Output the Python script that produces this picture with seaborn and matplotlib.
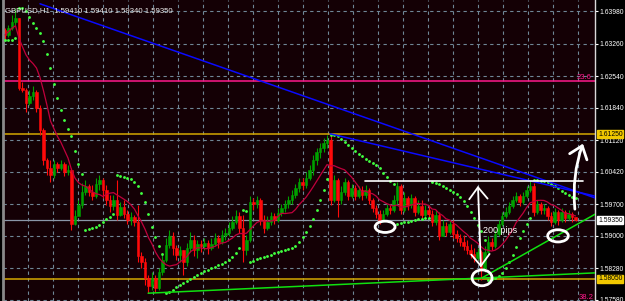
import numpy as np
import pandas as pd
import matplotlib
matplotlib.use("Agg")
import matplotlib.pyplot as plt
import matplotlib.transforms as mtransforms
from matplotlib.patches import Ellipse, FancyArrowPatch, ArrowStyle
import seaborn as sns

# ---------------- data ----------------
header = "GBPUSD,H1  1.59410 1.59410 1.59340 1.59350"
first_open = 1.6356
closes = [
    1.6345, 1.6360, 1.6374, 1.6383, 1.6227, 1.6223, 1.6194, 1.6210, 1.6219, 1.6183,
    1.6134, 1.6068, 1.6050, 1.6035, 1.6059, 1.6050, 1.6059, 1.6041, 1.6046, 1.5926,
    1.5944, 1.5968, 1.5997, 1.6010, 1.5997, 1.5988, 1.6015, 1.6024, 1.6002, 1.5979,
    1.5966, 1.5979, 1.5946, 1.5964, 1.5948, 1.5935, 1.5942, 1.5931, 1.5855, 1.5842,
    1.5807, 1.5789, 1.5807, 1.5784, 1.5820, 1.5846, 1.5880, 1.5900, 1.5873, 1.5857,
    1.5869, 1.5842, 1.5873, 1.5891, 1.5869, 1.5882, 1.5877, 1.5884, 1.5873, 1.5882,
    1.5895, 1.5886, 1.5902, 1.5906, 1.5917, 1.5931, 1.5944, 1.5917, 1.5869, 1.5891,
    1.5975, 1.5970, 1.5979, 1.5935, 1.5917, 1.5931, 1.5944, 1.5935, 1.5951, 1.5962,
    1.5970, 1.5979, 1.5990, 1.6006, 1.6019, 1.6013, 1.6028, 1.6046, 1.6068, 1.6086,
    1.6094, 1.6105, 1.6112, 1.5979, 1.6024, 1.5979, 1.5997, 1.6019, 1.5988, 1.6006,
    1.5988, 1.6002, 1.5990, 1.6002, 1.5979, 1.5962, 1.5948, 1.5935, 1.5948, 1.5962,
    1.5957, 1.5979, 1.6010, 1.5957, 1.5984, 1.5968, 1.5984, 1.5953, 1.5966, 1.5946,
    1.5957, 1.5948, 1.5931, 1.5946, 1.5900, 1.5922, 1.5909, 1.5926, 1.5904, 1.5895,
    1.5886, 1.5877, 1.5869, 1.5860, 1.5851, 1.5864, 1.5829, 1.5864, 1.5886, 1.5877,
    1.5904, 1.5926, 1.5944, 1.5953, 1.5966, 1.5979, 1.5988, 1.5975, 1.5988, 1.6002,
    1.6010, 1.5953, 1.5970, 1.5957, 1.5962, 1.5944, 1.5931, 1.5953, 1.5935, 1.5953,
    1.5940, 1.5948, 1.5941, 1.5935,
]
highs = [
    1.6360, 1.6367, 1.6389, 1.6405, 1.6383, 1.6241, 1.6227, 1.6223, 1.6232, 1.6223,
    1.6190, 1.6139, 1.6072, 1.6068, 1.6068, 1.6063, 1.6068, 1.6063, 1.6057, 1.6050,
    1.5957, 1.5979, 1.6017, 1.6024, 1.6015, 1.6013, 1.6028, 1.6035, 1.6028, 1.6013,
    1.5990, 1.5990, 1.6024, 1.5975, 1.5979, 1.5957, 1.5953, 1.5946, 1.5968, 1.5864,
    1.5851, 1.5813, 1.5820, 1.5813, 1.5829, 1.5857, 1.5895, 1.5913, 1.5909, 1.5880,
    1.5877, 1.5869, 1.5884, 1.5909, 1.5902, 1.5891, 1.5891, 1.5895, 1.5891, 1.5895,
    1.5906, 1.5902, 1.5913, 1.5917, 1.5931, 1.5944, 1.5957, 1.5953, 1.5946, 1.5902,
    1.5988, 1.5984, 1.5988, 1.5984, 1.5946, 1.5944, 1.5953, 1.5951, 1.5962, 1.5970,
    1.5979, 1.5988, 1.6002, 1.6015, 1.6028, 1.6028, 1.6041, 1.6057, 1.6079, 1.6094,
    1.6105, 1.6116, 1.6123, 1.6121, 1.6035, 1.6028, 1.6010, 1.6028, 1.6024, 1.6015,
    1.6013, 1.6010, 1.6010, 1.6013, 1.6006, 1.5984, 1.5968, 1.5957, 1.5957, 1.5970,
    1.5968, 1.5990, 1.6019, 1.6015, 1.5997, 1.5988, 1.5992, 1.5988, 1.5979, 1.5979,
    1.5968, 1.5968, 1.5957, 1.5957, 1.5953, 1.5935, 1.5931, 1.5935, 1.5935, 1.5913,
    1.5904, 1.5902, 1.5891, 1.5882, 1.5873, 1.5873, 1.5869, 1.5877, 1.5900, 1.5895,
    1.5913, 1.5935, 1.5953, 1.5964, 1.5975, 1.5988, 1.5997, 1.5992, 1.5997, 1.6010,
    1.6024, 1.6017, 1.5979, 1.5975, 1.5970, 1.5966, 1.5953, 1.5962, 1.5957, 1.5962,
    1.5957, 1.5957, 1.5953, 1.5941,
]
lows = [
    1.6334, 1.6340, 1.6356, 1.6367, 1.6223, 1.6219, 1.6174, 1.6190, 1.6201, 1.6174,
    1.6123, 1.6057, 1.6035, 1.6019, 1.6028, 1.6041, 1.6046, 1.6032, 1.6035, 1.5913,
    1.5924, 1.5953, 1.5962, 1.5990, 1.5988, 1.5979, 1.5984, 1.6002, 1.5984, 1.5968,
    1.5953, 1.5957, 1.5935, 1.5944, 1.5940, 1.5926, 1.5924, 1.5922, 1.5842, 1.5829,
    1.5791, 1.5773, 1.5780, 1.5776, 1.5780, 1.5813, 1.5842, 1.5873, 1.5857, 1.5846,
    1.5842, 1.5813, 1.5833, 1.5864, 1.5855, 1.5851, 1.5864, 1.5869, 1.5860, 1.5869,
    1.5877, 1.5873, 1.5882, 1.5891, 1.5900, 1.5913, 1.5926, 1.5906, 1.5842, 1.5857,
    1.5886, 1.5957, 1.5962, 1.5924, 1.5906, 1.5913, 1.5924, 1.5926, 1.5931, 1.5944,
    1.5953, 1.5962, 1.5970, 1.5984, 1.5997, 1.6002, 1.6006, 1.6024, 1.6035, 1.6057,
    1.6072, 1.6086, 1.6094, 1.5968, 1.5975, 1.5942, 1.5970, 1.5990, 1.5979, 1.5984,
    1.5979, 1.5984, 1.5979, 1.5984, 1.5970, 1.5953, 1.5940, 1.5926, 1.5931, 1.5944,
    1.5948, 1.5953, 1.5970, 1.5948, 1.5953, 1.5957, 1.5962, 1.5944, 1.5948, 1.5940,
    1.5940, 1.5940, 1.5922, 1.5924, 1.5891, 1.5900, 1.5900, 1.5904, 1.5895, 1.5886,
    1.5877, 1.5869, 1.5860, 1.5851, 1.5842, 1.5846, 1.5802, 1.5820, 1.5855, 1.5869,
    1.5873, 1.5900, 1.5922, 1.5940, 1.5948, 1.5962, 1.5975, 1.5966, 1.5970, 1.5984,
    1.5997, 1.5944, 1.5948, 1.5948, 1.5948, 1.5935, 1.5922, 1.5926, 1.5924, 1.5931,
    1.5931, 1.5935, 1.5931, 1.5934,
]
price_ticks = [1.63980, 1.63260, 1.62540, 1.61840, 1.61120,
               1.60420, 1.59700, 1.59000, 1.58280, 1.57580]
gold_levels = [1.61250, 1.58050]
fibo_levels = [1.6243, 1.5756]
fibo_labels = ["23.6", "38.2"]
current_price = 1.59350
# drawn objects: (bar0, price0, bar1, price1)
blue_lines = [(10.0, 1.6414, 168.6, 1.5984), (92.9, 1.6126, 168.6, 1.5988)]
green_lines = [(40.9, 1.5773, 168.6, 1.5818), (136.3, 1.5807, 168.6, 1.5948)]
white_level = (102.9, 165.1, 1.6021)
ovals = [(108.6, 1.5920), (136.3, 1.5807), (158.0, 1.5900)]  # centres
oval_sizes = [(5.7, 0.0025), (5.7, 0.0035), (5.9, 0.0027)]
range_arrow = (135.1, 1.6017, 136.0, 1.5824)
range_text = (136.6, 1.5911, "200 pips")
up_arrow = (162.9, 1.5953, 165.4, 1.6110)

# ---------------- styling ----------------
sns.set_theme(style="dark")
plt.rcParams["font.family"] = ["Liberation Sans", "DejaVu Sans"]

BG = "#140005"
BULL = "#00a000"
BEAR = "#ff0a0a"
LABEL_FS = 4.9

fig = plt.figure(figsize=(6.25, 3.01), dpi=100, facecolor="black")
ax = fig.add_axes([3 / 625, 0.0, 592 / 625, 1.0])
ax.set_facecolor(BG)

c = np.array(closes)
h = np.array(highs)
l = np.array(lows)
o = np.r_[first_open, c[:-1]]
n = len(c)
bars = np.arange(n)
df = pd.DataFrame({"bar": bars, "open": o, "high": h, "low": l, "close": c})
df["ma"] = df["close"].rolling(10, min_periods=1).mean()


def parabolic_sar(hi, lo, step=0.02, amax=0.2):
    sar = np.empty(len(hi))
    bull = True
    af = step
    ep = hi[0]
    sar[0] = lo[0]
    for i in range(1, len(hi)):
        s = sar[i - 1] + af * (ep - sar[i - 1])
        if bull:
            s = min(s, lo[i - 1], lo[max(i - 2, 0)])
            if lo[i] < s:
                bull, s, ep, af = False, ep, lo[i], step
            elif hi[i] > ep:
                ep, af = hi[i], min(af + step, amax)
        else:
            s = max(s, hi[i - 1], hi[max(i - 2, 0)])
            if hi[i] > s:
                bull, s, ep, af = True, ep, hi[i], step
            elif lo[i] < ep:
                ep, af = lo[i], min(af + step, amax)
        sar[i] = s
    return sar


df["sar"] = parabolic_sar(h, l)

x_left, x_right = -0.57, 168.57
ax.set_xlim(x_left, x_right)
ax.set_ylim(1.57557, 1.64224)

# grid
grid_col = "#6f8696"
for p in price_ticks:
    ax.axhline(p, color=grid_col, lw=0.8, ls=(0, (3, 3)), zorder=0.5)
for gx in np.arange(6.57, 168, 7.143):
    ax.axvline(gx, color=grid_col, lw=0.8, ls=(0, (3, 3)), zorder=0.5)

# horizontal levels
ax.axhline(fibo_levels[0], color="#ff1a8c", lw=1.1, zorder=1)
for g in gold_levels:
    ax.axhline(g, color="#d4a800", lw=1.1, zorder=1)
ax.axhline(current_price, color="#8a97a8", lw=0.9, zorder=1)

# candles
up = df["close"] >= df["open"]
for mask, col in ((up, BULL), (~up, BEAR)):
    d = df[mask]
    ax.vlines(d["bar"], d["low"], d["high"], color=col, lw=0.8, zorder=2)
    ax.bar(d["bar"], (d["close"] - d["open"]).abs(), bottom=np.minimum(d["open"], d["close"]),
           width=0.62, color=col, edgecolor=col, linewidth=0.4, zorder=2)

# moving average & parabolic SAR
sns.lineplot(data=df, x="bar", y="ma", ax=ax, color="#c0003c", linewidth=0.9, zorder=3, legend=False)
sns.scatterplot(data=df, x="bar", y="sar", ax=ax, color="#40ff40", s=4.2, marker="o",
                linewidth=0, zorder=3, legend=False)

# trendlines
for (b0, p0, b1, p1) in blue_lines:
    ax.plot([b0, b1], [p0, p1], color="#0a0aff", lw=1.1, zorder=4)
for (b0, p0, b1, p1) in green_lines:
    ax.plot([b0, b1], [p0, p1], color="#10e010", lw=1.1, zorder=4)
ax.plot([white_level[0], white_level[1]], [white_level[2]] * 2, color="white", lw=1.2, zorder=4)

# white annotations
for (cx, cy), (w, hh) in zip(ovals, oval_sizes):
    ax.add_patch(Ellipse((cx, cy), w, hh, fill=False, ec="white", lw=2.0, zorder=6))
ax.add_patch(FancyArrowPatch((range_arrow[0], range_arrow[1]), (range_arrow[2], range_arrow[3]),
                             arrowstyle=ArrowStyle("<->", head_length=0.7, head_width=0.55),
                             mutation_scale=12, color="white", lw=1.3, zorder=6))
ax.text(range_text[0], range_text[1], range_text[2], color="white", fontsize=6.5,
        ha="left", va="center", zorder=6)
ax.add_patch(FancyArrowPatch((up_arrow[0], up_arrow[1]), (up_arrow[2], up_arrow[3]),
                             arrowstyle=ArrowStyle("->", head_length=0.7, head_width=0.55),
                             connectionstyle="arc3,rad=-0.12",
                             mutation_scale=12, color="white", lw=2.0, zorder=6))

# fibo labels
ax.text(x_right - 1.0, fibo_levels[0], fibo_labels[0], color="#ff1a8c", fontsize=5.5,
        ha="right", va="bottom", zorder=6)
ax.text(x_right - 0.3, fibo_levels[1], fibo_labels[1], color="#ff1a8c", fontsize=5.5,
        ha="right", va="bottom", zorder=6)

# header
ax.text(0.004, 1 - 11 / 301, header, transform=ax.transAxes, color="#ececec",
        fontsize=5.6, ha="left", va="center", zorder=7)

# axis / spines
ax.yaxis.tick_right()
ax.set_yticks(price_ticks)
ax.set_yticklabels([f"{p:.5f}" for p in price_ticks])
ax.tick_params(axis="y", colors="white", labelsize=LABEL_FS, length=2.5, width=0.8, pad=0.6,
               labelcolor="white", right=True, left=False)
ax.set_xticks([])
ax.set_xlabel("")
ax.set_ylabel("")
for s in ("top", "bottom"):
    ax.spines[s].set_visible(False)
ax.spines["right"].set_color("#d8d8d8")
ax.spines["right"].set_linewidth(1.0)
ax.spines["left"].set_color("#8a8a8a")
ax.spines["left"].set_linewidth(2.0)
ax.spines["right"].set_visible(True)
ax.spines["left"].set_visible(True)

trans = mtransforms.blended_transform_factory(ax.transAxes, ax.transData)
for g in gold_levels:
    ax.text(1.0052, g, f"{g:.5f}", transform=trans, color="black", fontsize=LABEL_FS,
            ha="left", va="center", clip_on=False, zorder=8,
            bbox=dict(facecolor="#f0c800", edgecolor="#f0c800", pad=0.5))
ax.text(1.0052, current_price, f"{current_price:.5f}", transform=trans, color="black",
        fontsize=LABEL_FS, ha="left", va="center", clip_on=False, zorder=8,
        bbox=dict(facecolor="white", edgecolor="white", pad=0.5))

fig.savefig("out.png", dpi=100, facecolor="black")
